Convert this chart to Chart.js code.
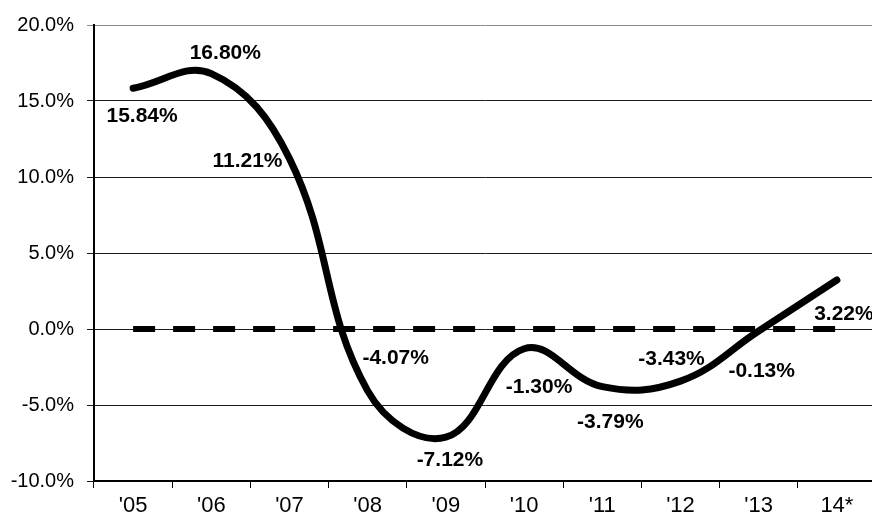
<!DOCTYPE html>
<html lang="en">
<head>
<meta charset="UTF-8">
<title>Annual change</title>
<script src="https://cdn.jsdelivr.net/npm/chart.js"></script>
<style>
  html, body { margin: 0; padding: 0; overflow: hidden; background: #fff; }
  canvas { display: block; }
</style>
</head>
<body>
<canvas id="myChart" width="877" height="517"></canvas>
<script>
  const years = ["'05", "'06", "'07", "'08", "'09", "'10", "'11", "'12", "'13", "14*"];
  const changes = [15.84, 16.80, 11.21, -4.07, -7.12, -1.30, -3.79, -3.43, -0.13, 3.22];
  const zeroLine = [0, 0, 0, 0, 0, 0, 0, 0, 0, 0];
  const yMin = -10, yMax = 20, yStep = 5;

  // where each value label sits relative to its point (px)
  const labelOffsets = [
    [9, 28], [14, -20], [-42, 3], [28, -33], [4, 23],
    [15, 38], [8, 36], [-9, -22], [3, 40], [7, 34]
  ];

  const FONT = '"Liberation Sans", Arial, sans-serif';

  const valueLabels = {
    id: 'valueLabels',
    afterDatasetsDraw(chart) {
      const ctx = chart.ctx;
      const meta = chart.getDatasetMeta(1);
      ctx.save();
      ctx.font = 'bold 21px ' + FONT;
      ctx.fillStyle = '#000';
      ctx.textAlign = 'center';
      ctx.textBaseline = 'middle';
      meta.data.forEach((pt, i) => {
        const [dx, dy] = labelOffsets[i];
        ctx.fillText(changes[i].toFixed(2) + '%', pt.x + dx, pt.y + dy);
      });
      ctx.restore();
    }
  };

  const ctx = document.getElementById('myChart').getContext('2d');
  new Chart(ctx, {
    type: 'line',
    data: {
      labels: years,
      datasets: [
        {
          data: zeroLine,
          borderColor: '#000',
          borderWidth: 6,
          borderDash: [22, 18],
          pointRadius: 0,
          tension: 0
        },
        {
          data: changes,
          borderColor: '#000',
          borderWidth: 7,
          borderCapStyle: 'round',
          borderJoinStyle: 'round',
          pointRadius: 0,
          tension: 0.4
        }
      ]
    },
    options: {
      responsive: false,
      animation: false,
      devicePixelRatio: 1,
      layout: { padding: { top: 20, right: 1, left: 0, bottom: 0 } },
      plugins: {
        legend: { display: false },
        tooltip: { enabled: false }
      },
      scales: {
        x: {
          offset: true,
          grid: {
            offset: true,
            drawOnChartArea: false,
            drawTicks: true,
            tickLength: 7,
            color: '#000'
          },
          border: { color: '#000', width: 2 },
          ticks: {
            color: '#000',
            font: { family: FONT, size: 22 },
            padding: 5,
            maxRotation: 0,
            autoSkip: false
          },
          afterFit(s) { s.height = 36; }
        },
        y: {
          min: yMin,
          max: yMax,
          grid: {
            color: c => (c.tick && c.tick.value === yMax) ? '#8c8c8c' : '#1a1a1a',
            lineWidth: 1,
            tickLength: 7
          },
          border: { color: '#000', width: 2 },
          ticks: {
            stepSize: yStep,
            color: '#000',
            font: { family: FONT, size: 20 },
            padding: 13,
            callback: v => v.toFixed(1) + '%'
          },
          afterFit(s) { s.width = 94; }
        }
      }
    },
    plugins: [valueLabels]
  });
</script>
</body>
</html>
